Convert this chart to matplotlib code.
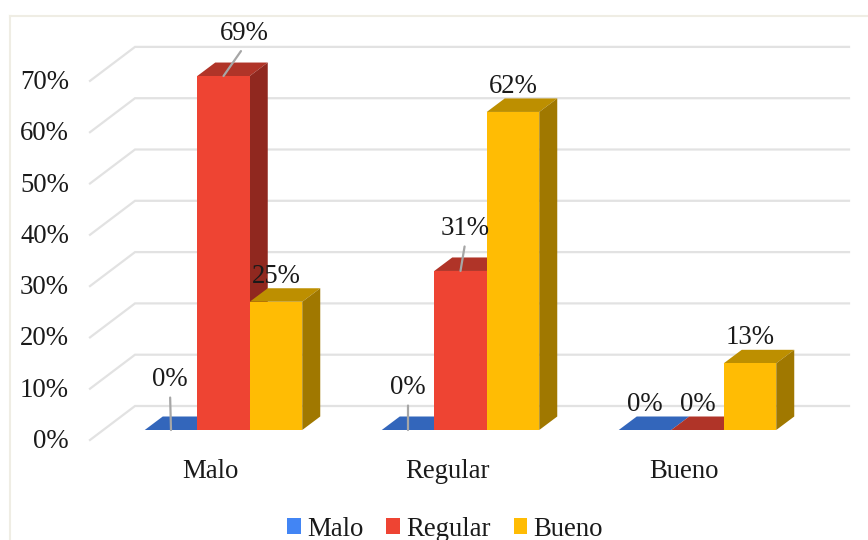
import matplotlib
matplotlib.use('Agg')
import matplotlib.pyplot as plt
from matplotlib.lines import Line2D
from matplotlib.patches import Polygon

plt.rcParams['font.family'] = ['Liberation Serif', 'DejaVu Serif']

categories = ['Malo', 'Regular', 'Bueno']
series_names = ['Malo', 'Regular', 'Bueno']
malo = [0, 0, 0]
regular = [69, 31, 0]
bueno = [25, 62, 13]
y_ticks = [0, 10, 20, 30, 40, 50, 60, 70]

front_colors = ['#4285F4', '#EE4433', '#FFBC04']
top_colors = ['#3366BB', '#B03428', '#BD8F00']
side_colors = ['#2A5296', '#90281F', '#A07800']

W, H = 868, 540
PX_X = 237.0   # pixels per category
PX_Y = 5.13    # pixels per percent
X0 = 223.5     # pixel of first category centre
Y0 = 430.0     # pixel of 0% on the bars' front plane

BAR_W = 52.5 / PX_X
DEPTH_X = 18 / PX_X
DEPTH_Y = 13.5 / PX_Y
FS = 19.3


def dx(px):
    return px / PX_X


def dy(px):
    return px / PX_Y


fig = plt.figure(figsize=(W / 100, H / 100), dpi=100)
ax = fig.add_axes([0, 0, 1, 1])
ax.set_xlim(-X0 / PX_X, (W - X0) / PX_X)
ax.set_ylim((Y0 - H) / PX_Y, Y0 / PX_Y)
ax.axis('off')

# outer chart frame, only top and left fall inside the canvas
fig.add_artist(Line2D([10 / W, 1], [1 - 16 / H, 1 - 16 / H], color='#EFEDE4', lw=1.5))
fig.add_artist(Line2D([10 / W, 10 / W], [0, 1 - 16 / H], color='#EFEDE4', lw=1.5))

# back wall gridlines plus the slanted part on the floor/side wall
wall_left = dx(135 - X0)
wall_right = dx(849 - X0)
wall_front = dx(90 - X0)
for t in y_ticks:
    ax.plot([wall_front, wall_left, wall_right],
            [t - dy(10), t + dy(24), t + dy(24)],
            color='#E2E2E2', lw=1.6, zorder=1, solid_joinstyle='miter')
    ax.text(dx(69 - X0), t - dy(18), '%d%%' % t, ha='right', va='baseline',
            fontsize=FS, color='#1A1A1A')

# drawn left to right so each bar hides the side face of the one before it
all_series = [malo, regular, bueno]
order = 2
for i in range(len(categories)):
    for s, values in enumerate(all_series):
        v = values[i]
        left = i + (s - 1.5) * BAR_W
        right = left + BAR_W
        ax.add_patch(Polygon([(left, v), (left + DEPTH_X, v + DEPTH_Y),
                              (right + DEPTH_X, v + DEPTH_Y), (right, v)],
                             closed=True, fc=top_colors[s], ec='none', zorder=order))
        ax.add_patch(Polygon([(right, 0), (right + DEPTH_X, DEPTH_Y),
                              (right + DEPTH_X, v + DEPTH_Y), (right, v)],
                             closed=True, fc=side_colors[s], ec='none', zorder=order))
        ax.bar(left, v, width=BAR_W, align='edge', color=front_colors[s], zorder=order + 0.5)
        order += 1

# value labels: (series, category) -> offset from bar top in pixels, some have leaders
label_shift = {(1, 0): (21, -36), (0, 0): (-1, -44), (1, 1): (5, -36), (0, 1): (0, -36)}
for s, values in enumerate(all_series):
    for i, v in enumerate(values):
        cx = i + (s - 1) * BAR_W
        off = label_shift.get((s, i), (0, -19))
        has_leader = (s, i) in label_shift
        ax.annotate('%d%%' % v, xy=(cx, v),
                    xytext=(off[0] * 0.72, -off[1] * 0.72), textcoords='offset points',
                    ha='center', va='baseline', fontsize=FS, color='#1A1A1A', zorder=100,
                    arrowprops=dict(arrowstyle='-', color='#A6A6A6', lw=1.6,
                                    shrinkA=2, shrinkB=0, relpos=(0.5, 0)) if has_leader else None)

for i, name in enumerate(categories):
    ax.text(i - dx(13.5), -dy(48), name, ha='center', va='baseline', fontsize=FS, color='#1A1A1A')

handles = [plt.Rectangle((0, 0), 1, 1, fc=c, ec='none') for c in front_colors]
ax.legend(handles, series_names, ncol=3, loc='center', frameon=False,
          bbox_to_anchor=(445 / W, 1 - 529 / H), bbox_transform=fig.transFigure,
          fontsize=FS, labelcolor='#1A1A1A', handlelength=0.52, handleheight=0.52,
          handletextpad=0.23, columnspacing=0.85, borderpad=0, borderaxespad=0)

fig.savefig('out.png', dpi=100)
